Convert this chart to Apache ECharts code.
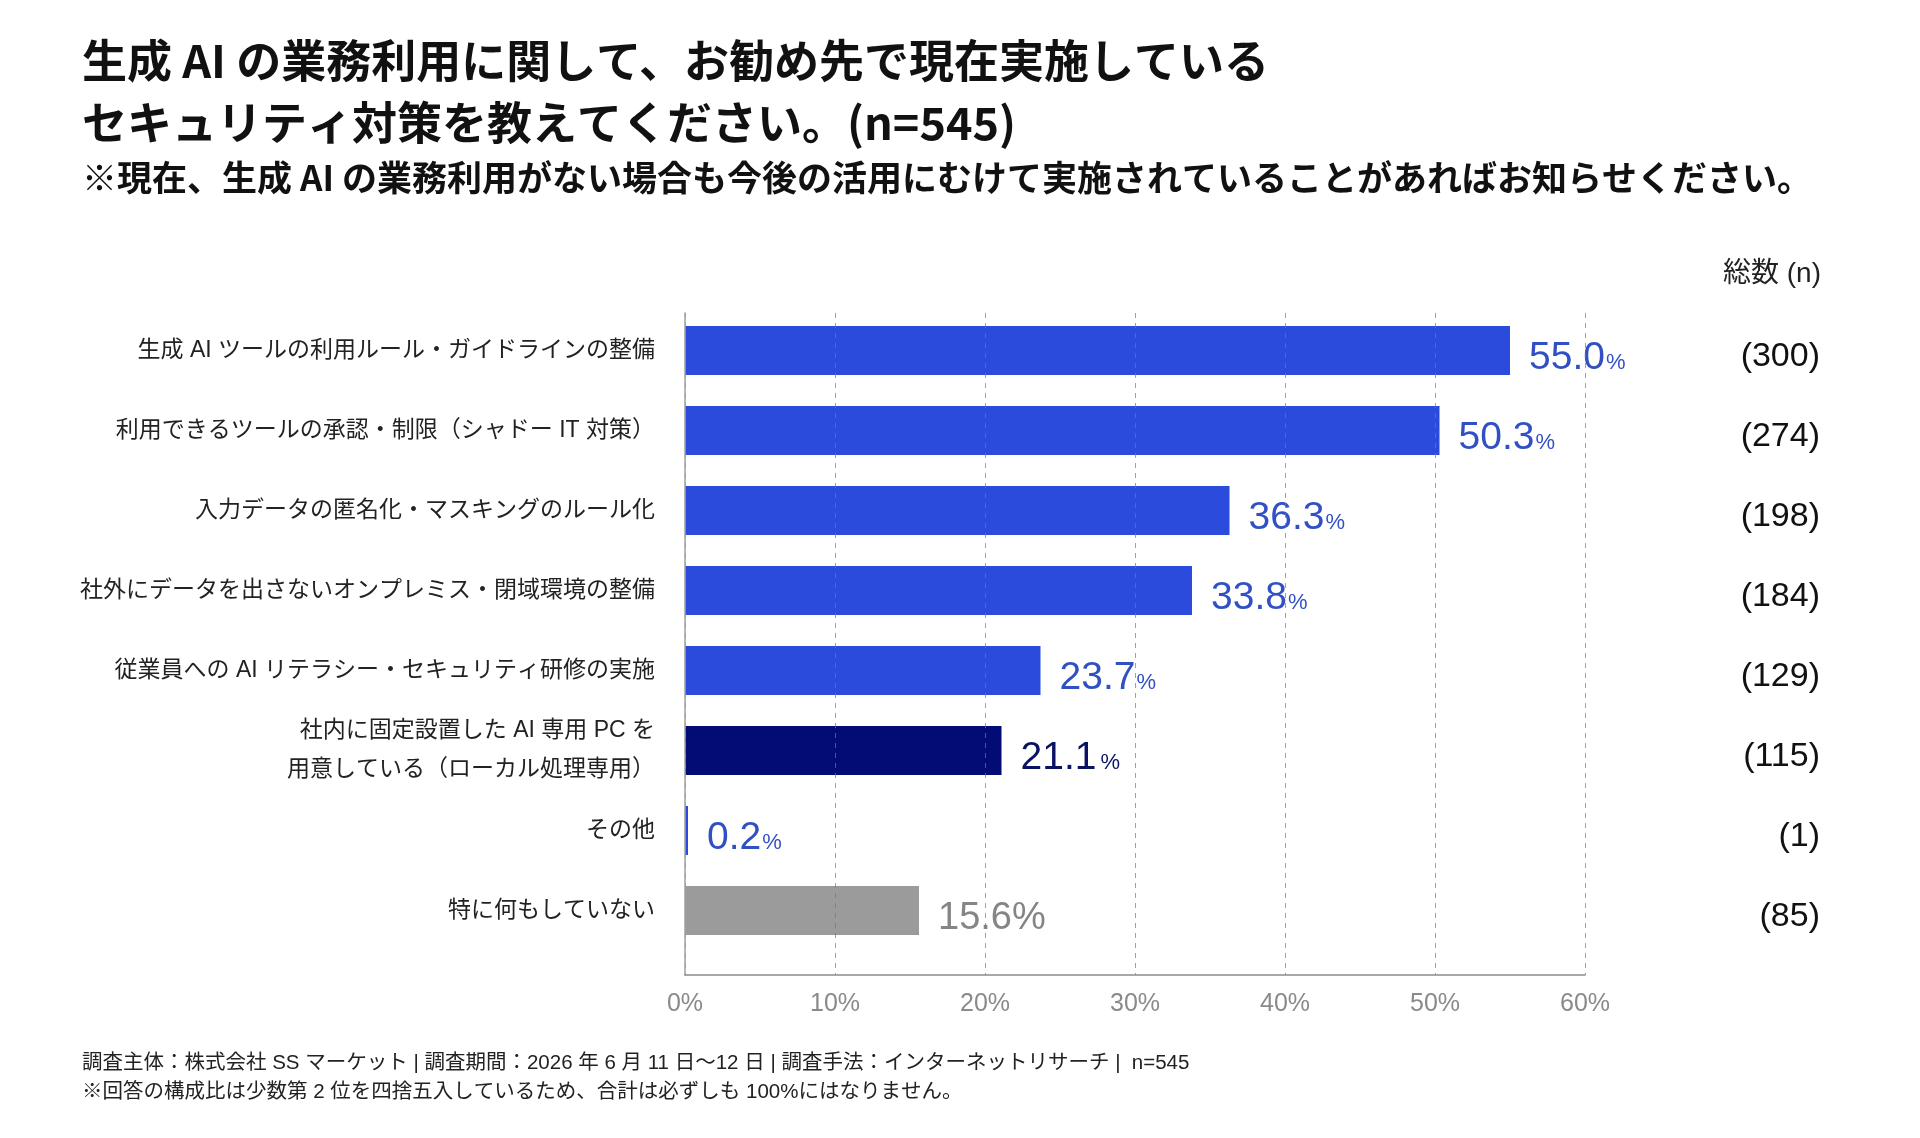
<!DOCTYPE html>
<html>
<head>
<meta charset="UTF-8">
<title>生成AI セキュリティ対策</title>
<script src="https://cdn.jsdelivr.net/npm/echarts@6/dist/echarts.min.js"></script>
<style>
html, body { margin: 0; padding: 0; background: #fff; }
#chart { width: 1920px; height: 1138px; }
</style>
</head>
<body>
<div id="chart"></div>
<script>
// 項目（上から順）
var categories = [
	'生成 AI ツールの利用ルール・ガイドラインの整備',
	'利用できるツールの承認・制限（シャドー IT 対策）',
	'入力データの匿名化・マスキングのルール化',
	'社外にデータを出さないオンプレミス・閉域環境の整備',
	'従業員への AI リテラシー・セキュリティ研修の実施',
	'社内に固定設置した AI 専用 PC を\n用意している（ローカル処理専用）',
	'その他',
	'特に何もしていない'
];
// 割合(%)
var rates = [55.0, 50.3, 36.3, 33.8, 23.7, 21.1, 0.2, 15.6];
// 総数(n)
var counts = [300, 274, 198, 184, 129, 115, 1, 85];
// x軸目盛
var xMin = 0, xMax = 60, xStep = 10;

var NAVY_INDEX = 5;
var GRAY_INDEX = 7;

var JP = "'Noto Sans CJK JP'";
var MIX = "'Liberation Sans', 'Noto Sans CJK JP'";

var chart = echarts.init(document.getElementById('chart'));

function barColor(i) {
	if (i === NAVY_INDEX) return '#030b74';
	if (i === GRAY_INDEX) return '#9b9b9b';
	return '#2a4bdb';
}

var seriesData = rates.map(function (v, i) {
	return { value: v, itemStyle: { color: barColor(i) } };
});

var option = {
	backgroundColor: '#fff',
	animation: false,
	graphic: [
		{ type: 'text', x: 82, y: 61, style: { text: '生成 AI の業務利用に関して、お勧め先で現在実施している', font: 'bold 45px ' + JP, fill: '#111', verticalAlign: 'middle' } },
		{ type: 'text', x: 82, y: 123, style: { text: 'セキュリティ対策を教えてください。(n=545)', font: 'bold 45px ' + JP, fill: '#111', verticalAlign: 'middle' } },
		{ type: 'text', x: 82, y: 178, style: { text: '※現在、生成 AI の業務利用がない場合も今後の活用にむけて実施されていることがあればお知らせください。', font: 'bold 35px ' + JP, fill: '#111', verticalAlign: 'middle' } },
		{ type: 'text', x: 1821, y: 274, style: { text: '総数 (n)', font: '28px ' + MIX, fill: '#222', align: 'right', verticalAlign: 'middle' } },
		{ type: 'text', x: 82, y: 1063, style: { text: '調査主体：株式会社 SS マーケット | 調査期間：2026 年 6 月 11 日〜12 日 | 調査手法：インターネットリサーチ |  n=545', font: '20.5px ' + MIX, fill: '#222', verticalAlign: 'middle' } },
		{ type: 'text', x: 82, y: 1092, style: { text: '※回答の構成比は少数第 2 位を四捨五入しているため、合計は必ずしも 100%にはなりません。', font: '20.5px ' + MIX, fill: '#222', verticalAlign: 'middle' } }
	],
	grid: [
		// 棒グラフ
		{ left: 685, width: 900, top: 310.5, height: 640 },
		// 目盛・グリッド線
		{ left: 685, width: 900, top: 313, height: 662 }
	],
	xAxis: [
		{ gridIndex: 0, type: 'value', min: xMin, max: xMax, interval: xStep, show: false },
		{
			gridIndex: 1, type: 'value', min: xMin, max: xMax, interval: xStep, z: 5,
			axisLine: { show: true, lineStyle: { color: '#8c8c8c', width: 1.5 } },
			axisTick: { show: false },
			axisLabel: { formatter: '{value}%', color: '#8a8a8a', fontSize: 25, fontFamily: MIX, margin: 17 },
			splitLine: { show: true, lineStyle: { color: 'rgba(120,120,120,0.7)', type: [5, 5], width: 1 } }
		}
	],
	yAxis: [
		{
			gridIndex: 0, type: 'category', inverse: true, data: categories,
			axisLine: { show: false }, axisTick: { show: false },
			axisLabel: { color: '#222', fontSize: 23, fontFamily: MIX, margin: 30, lineHeight: 39, align: 'right' }
		},
		{
			gridIndex: 0, type: 'category', inverse: true, position: 'right', data: categories,
			axisLine: { show: false }, axisTick: { show: false },
			axisLabel: {
				formatter: function (v, i) { return '{n|(' + counts[i] + ')}'; },
				margin: 235, align: 'right',
				rich: {
					n: { color: '#111', fontSize: 34, fontFamily: MIX, padding: [12, 0, 0, 0] }
				}
			}
		},
		{
			gridIndex: 1, type: 'value', min: 0, max: 1, z: 5,
			axisLine: { show: true, lineStyle: { color: '#a0a0a0', width: 1.5 } },
			axisTick: { show: false }, axisLabel: { show: false }, splitLine: { show: false }
		}
	],
	series: [
		{
			type: 'bar', xAxisIndex: 0, yAxisIndex: 0, barWidth: 49,
			data: seriesData,
			label: {
				show: true, position: 'right', distance: 19, offset: [0, 5],
				formatter: function (p) {
					var s = p.value.toFixed(1);
					if (p.dataIndex === GRAY_INDEX) return '{g|' + s + '%}';
					if (p.dataIndex === NAVY_INDEX) return '{nNum|' + s + '}{nPct|%}';
					return '{num|' + s + '}{pct|%}';
				},
				rich: {
					num: { color: '#3150c4', fontSize: 39, fontFamily: MIX, verticalAlign: 'bottom', lineHeight: 44 },
					pct: { color: '#3150c4', fontSize: 22, fontFamily: MIX, verticalAlign: 'bottom', lineHeight: 44, padding: [0, 0, 4, 1] },
					nNum: { color: '#0a1264', fontSize: 39, fontFamily: MIX, verticalAlign: 'bottom', lineHeight: 44 },
					nPct: { color: '#0a1264', fontSize: 22, fontFamily: MIX, verticalAlign: 'bottom', lineHeight: 44, padding: [0, 0, 4, 4] },
					g: { color: '#858585', fontSize: 38, fontFamily: MIX, verticalAlign: 'bottom', lineHeight: 44 }
				}
			}
		}
	]
};

chart.setOption(option);
</script>
</body>
</html>
